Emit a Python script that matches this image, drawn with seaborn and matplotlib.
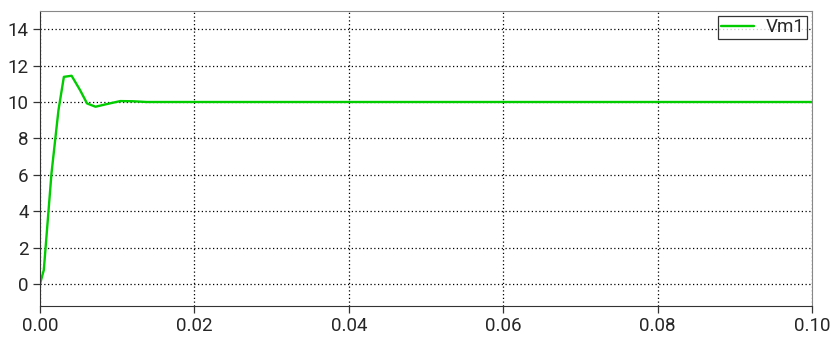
import numpy as np
import pandas as pd
import seaborn as sns
import matplotlib.pyplot as plt

# (time in s, voltage)
t_vals = [0.0, 0.0005, 0.0015, 0.0024, 0.0031, 0.0041, 0.0052, 0.0061, 0.0072,
          0.0086, 0.0104, 0.012, 0.0138, 0.02, 0.04, 0.06, 0.08, 0.1]
vm1 = [0.0, 0.77, 6.1, 9.55, 11.38, 11.44, 10.65, 9.92, 9.74,
       9.88, 10.05, 10.04, 10.0, 10.0, 10.0, 10.0, 10.0, 10.0]
x_ticks = [0.0, 0.02, 0.04, 0.06, 0.08, 0.10]
y_ticks = [0, 2, 4, 6, 8, 10, 12, 14]

sns.set_style("white")
plt.rcParams['font.family'] = ['Roboto', 'DejaVu Sans']

data = pd.DataFrame({"t": t_vals, "Vm1": vm1})

f = plt.figure(figsize=(8.32, 3.38), dpi=100)
ax = f.add_axes([0.048, 0.0947, 0.928, 0.873])
sns.lineplot(data=data, x="t", y="Vm1", color="#00cc00", linewidth=1.7,
             label="Vm1", ax=ax)

ax.set_xlim(0, 0.1)
ax.set_ylim(-1.2, 15)
ax.set_xticks(x_ticks)
ax.set_xticklabels([f"{v:.2f}" for v in x_ticks])
ax.set_yticks(y_ticks)
ax.set(xlabel="", ylabel="")
ax.grid(True, color="black", linestyle=(0, (1, 2)), linewidth=0.9)
ax.tick_params(axis="both", labelsize=13.5, length=5, width=0.9, color="#333333",
               direction="out", bottom=True, left=True, pad=3)
for side in ["left", "bottom"]:
    ax.spines[side].set_color("#333333")
for side in ["top", "right"]:
    ax.spines[side].set_color("#888888")

leg = ax.legend(loc="upper right", fontsize=13.5, frameon=True, fancybox=False,
                borderaxespad=0.25, handlelength=1.8, handletextpad=0.6,
                borderpad=0.15)
leg.get_frame().set_edgecolor("black")
leg.get_frame().set_linewidth(0.9)

f.savefig("out.png", dpi=100)
